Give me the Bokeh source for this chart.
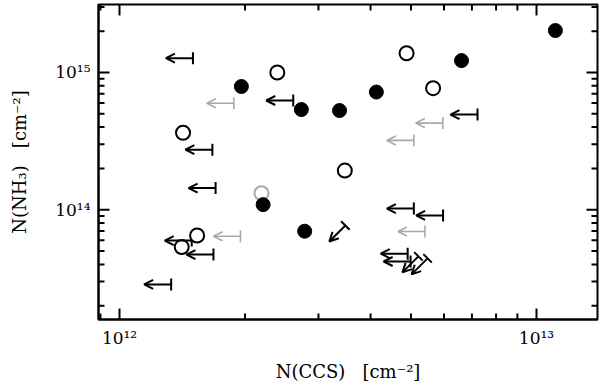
import math
from bokeh.plotting import figure
from bokeh.models import (Range1d, FixedTicker, CustomJSTickFormatter,
                          Arrow, OpenHead, ColumnDataSource)
from bokeh.embed import file_html
from bokeh.resources import INLINE

# ---------------- data ----------------
# detections, filled black circles: N(CCS), N(NH3)
det_filled_x = [1.96e12, 2.73e12, 3.37e12, 4.13e12, 6.61e12, 1.11e13, 2.21e12, 2.78e12]
det_filled_y = [7.9e14, 5.37e14, 5.28e14, 7.2e14, 1.22e15, 2.02e15, 1.09e14, 6.98e13]

# detections, open black circles
det_open_x = [2.39e12, 4.88e12, 5.65e12, 1.42e12, 3.47e12, 1.535e12, 1.41e12]
det_open_y = [1.0e15, 1.38e15, 7.69e14, 3.64e14, 1.93e14, 6.5e13, 5.35e13]

# detection, open grey circle
det_grey_x = [2.19e12]
det_grey_y = [1.32e14]

# upper limits in N(CCS), black
ul_x_black = [1.50e12, 2.61e12, 1.67e12, 1.70e12, 7.22e12, 5.08e12, 5.97e12,
              1.49e12, 1.68e12, 1.33e12, 4.91e12, 4.99e12]
ul_y_black = [1.27e15, 6.25e14, 2.74e14, 1.44e14, 4.94e14, 1.02e14, 9.1e13,
              5.97e13, 4.72e13, 2.86e13, 4.79e13, 4.2e13]

# upper limits in N(CCS), grey
ul_x_grey = [1.88e12, 5.96e12, 5.08e12, 1.95e12, 5.4e12]
ul_y_grey = [5.97e14, 4.28e14, 3.2e14, 6.42e13, 6.95e13]

# upper limits in both quantities, black
ul_xy_x = [3.48e12, 5.21e12, 5.48e12]
ul_xy_y = [7.69e13, 4.58e13, 4.43e13]

x_major = [1e12, 1e13]
y_major = [1e14, 1e15]

# ---------------- styling constants ----------------
FONT = "DejaVu Serif"
GREY = "#a9a9a9"
X_DEC_PX = 417.0     # pixels per decade on x
Y_DEC_PX = 137.3     # pixels per decade on y
ARROW_PX = 27        # length of horizontal arrows
DIAG_PX = 16         # x/y extent of diagonal arrows
MAJ_PX, MIN_PX = 11, 6

x_lo, x_hi = 10 ** 11.9496, 10 ** 13.1463
y_lo, y_hi = 10 ** 13.201, 10 ** 15.495

def minor_ticks(lo_exp, hi_exp, lo, hi):
    return [k * 10.0 ** e for e in range(lo_exp, hi_exp) for k in range(2, 10)
            if lo < k * 10.0 ** e < hi]

x_minor = minor_ticks(11, 14, x_lo, x_hi)
y_minor = minor_ticks(13, 16, y_lo, y_hi)

p = figure(width=600, height=386, x_axis_type="log", y_axis_type="log",
           x_range=Range1d(x_lo, x_hi), y_range=Range1d(y_lo, y_hi),
           output_backend="svg", toolbar_location=None,
           min_border_left=98, min_border_right=3, min_border_top=4,
           min_border_bottom=67)
p.xgrid.visible = False
p.ygrid.visible = False
p.outline_line_color = "black"
p.outline_line_width = 2

fmt = CustomJSTickFormatter(code="""
const sup = {'0':'\u2070','1':'\u00b9','2':'\u00b2','3':'\u00b3','4':'\u2074',
             '5':'\u2075','6':'\u2076','7':'\u2077','8':'\u2078','9':'\u2079','-':'\u207b'};
const e = Math.round(Math.log10(tick)).toString();
let s = '';
for (const c of e) { s += sup[c]; }
return '10' + s;
""")

for ax, ticks in ((p.xaxis[0], x_major), (p.yaxis[0], y_major)):
    ax.ticker = FixedTicker(ticks=ticks, minor_ticks=[])
    ax.formatter = fmt
    ax.major_tick_in = 0
    ax.major_tick_out = 0
    ax.minor_tick_in = 0
    ax.minor_tick_out = 0
    ax.axis_line_width = 2
    ax.axis_line_color = "black"
    ax.major_label_text_font = FONT
    ax.major_label_text_font_size = "17px"
    ax.major_label_text_color = "black"
    ax.major_label_standoff = 8
    ax.axis_label_text_font = FONT
    ax.axis_label_text_font_size = "18px"
    ax.axis_label_text_font_style = "normal"
    ax.axis_label_text_color = "black"

SP = "\u00a0\u00a0\u00a0"
p.xaxis[0].axis_label = "N(CCS)" + SP + "[cm\u207b\u00b2]"
p.yaxis[0].axis_label = "N(NH\u2083)" + SP + "[cm\u207b\u00b2]"
p.xaxis[0].axis_label_standoff = 10
p.yaxis[0].axis_label_standoff = 22

# ---------------- inward tick marks on all four frame edges ----------------
def add_ticks(x0, y0, x1, y1):
    src = ColumnDataSource(dict(x0=x0, y0=y0, x1=x1, y1=y1))
    p.add_layout(Arrow(start=None, end=None, x_start="x0", y_start="y0",
                       x_end="x1", y_end="y1", source=src,
                       line_width=2, line_color="black"))

for ticks, L in ((x_major, MAJ_PX), (x_minor, MIN_PX)):
    f = 10 ** (L / Y_DEC_PX)
    n = len(ticks)
    add_ticks(ticks * 2, [y_lo] * n + [y_hi] * n,
              ticks * 2, [y_lo * f] * n + [y_hi / f] * n)
for ticks, L in ((y_major, MAJ_PX), (y_minor, MIN_PX)):
    f = 10 ** (L / X_DEC_PX)
    n = len(ticks)
    add_ticks([x_lo] * n + [x_hi] * n, ticks * 2,
              [x_lo * f] * n + [x_hi / f] * n, ticks * 2)

# ---------------- upper-limit arrows ----------------
def add_h_arrows(xs, ys, color, lw):
    fx = 10 ** (-ARROW_PX / X_DEC_PX)
    src = ColumnDataSource(dict(x0=xs, y0=ys, x1=[x * fx for x in xs], y1=ys))
    p.add_layout(Arrow(end=OpenHead(size=9, line_width=lw, line_color=color),
                       x_start="x0", y_start="y0", x_end="x1", y_end="y1",
                       source=src, line_width=lw, line_color=color))
    p.scatter(xs, ys, marker="dash", size=12, angle=math.pi / 2,
              line_color=color, line_width=lw)

def add_d_arrows(xs, ys, color, lw):
    fx = 10 ** (-DIAG_PX / X_DEC_PX)
    fy = 10 ** (-DIAG_PX / Y_DEC_PX)
    src = ColumnDataSource(dict(x0=xs, y0=ys, x1=[x * fx for x in xs],
                                y1=[y * fy for y in ys]))
    p.add_layout(Arrow(end=OpenHead(size=9, line_width=lw, line_color=color),
                       x_start="x0", y_start="y0", x_end="x1", y_end="y1",
                       source=src, line_width=lw, line_color=color))
    p.scatter(xs, ys, marker="dash", size=12, angle=-math.pi / 4,
              line_color=color, line_width=lw)

add_h_arrows(ul_x_grey, ul_y_grey, GREY, 1.6)
add_h_arrows(ul_x_black, ul_y_black, "black", 2)
add_d_arrows(ul_xy_x, ul_xy_y, "black", 2)

# ---------------- detections ----------------
p.scatter(det_grey_x, det_grey_y, marker="circle", size=14,
          fill_color="white", line_color=GREY, line_width=2)
p.scatter(det_open_x, det_open_y, marker="circle", size=14,
          fill_color="white", line_color="black", line_width=2)
p.scatter(det_filled_x, det_filled_y, marker="circle", size=14,
          fill_color="black", line_color="black", line_width=1)

open("out.html", "w").write(file_html(p, INLINE))
